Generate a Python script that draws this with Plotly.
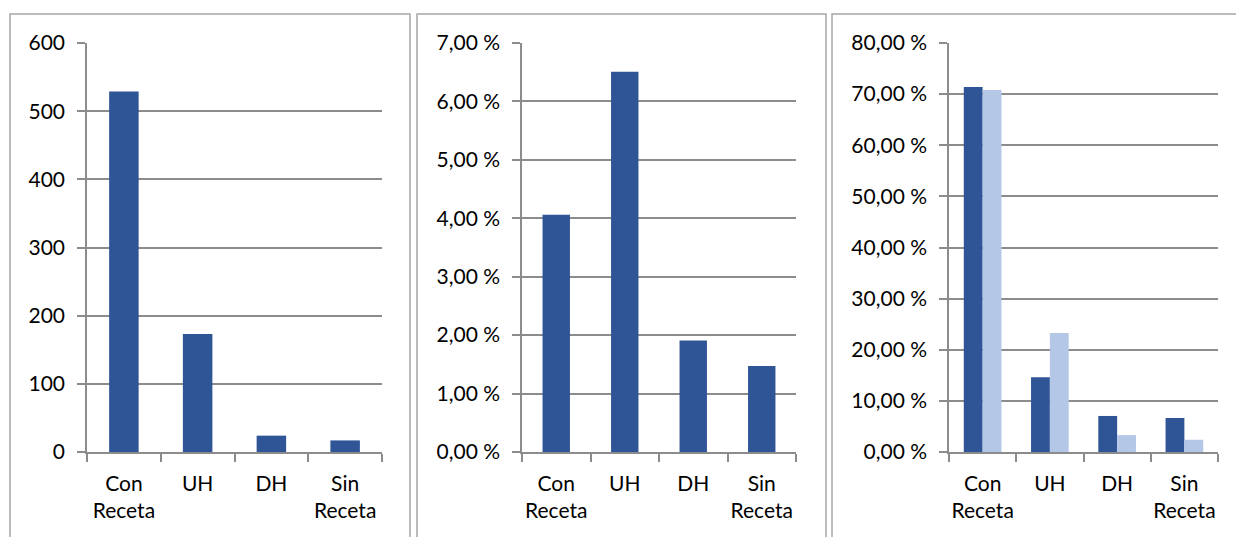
import plotly.graph_objects as go

categories = ["Con<br>Receta", "UH", "DH", "Sin<br>Receta"]

counts = [529, 173, 24, 17]
count_ticks = [0, 100, 200, 300, 400, 500, 600]

pct_single = [4.06, 6.51, 1.91, 1.47]
pct_single_ticks = [0, 1, 2, 3, 4, 5, 6, 7]

pct_dark = [71.4, 14.6, 7.05, 6.65]
pct_light = [70.8, 23.3, 3.3, 2.4]
pct_pair_ticks = [0, 10, 20, 30, 40, 50, 60, 70, 80]

DARK = "#2F5597"
LIGHT = "#B4C7E7"
GRID = "#8C8C8C"
BORDER = "#A6A6A6"
FONT = "Lato"

W, H = 1236, 537


def px(x):
    return x / W


def py(y):
    return (H - y) / H


def fmt_pct(v):
    return f"{v:.2f}".replace(".", ",") + " %"


fig = go.Figure()

fig.add_trace(go.Bar(x=categories, y=counts, marker_color=DARK, xaxis="x", yaxis="y",
                     marker_line_width=0, showlegend=False))
fig.add_trace(go.Bar(x=categories, y=pct_single, marker_color=DARK, xaxis="x2", yaxis="y2",
                     marker_line_width=0, showlegend=False))
fig.add_trace(go.Bar(x=categories, y=pct_dark, marker_color=DARK, xaxis="x3", yaxis="y3",
                     marker_line_width=0, showlegend=False, offsetgroup="a"))
fig.add_trace(go.Bar(x=categories, y=pct_light, marker_color=LIGHT, xaxis="x3", yaxis="y3",
                     marker_line_width=0, showlegend=False, offsetgroup="b"))

ydom = [py(452), py(43)]
xdoms = [[px(87), px(382)], [px(522), px(796)], [px(949), px(1218)]]

xcommon = dict(type="category", showline=True, linecolor=GRID, linewidth=1.5,
               ticks="outside", tickson="boundaries", ticklen=8, tickcolor=GRID,
               tickwidth=1.5, showgrid=False, automargin=False, tickangle=0,
               ticklabelstandoff=12,
               tickfont=dict(family=FONT, size=21, color="#000000"), fixedrange=True)
ycommon = dict(showline=True, linecolor=GRID, linewidth=1.5, ticks="outside", ticklen=8,
               tickcolor=GRID, tickwidth=1.5, showgrid=True, gridcolor=GRID, gridwidth=1.5,
               zeroline=False, automargin=False, ticklabelstandoff=8,
               tickfont=dict(family=FONT, size=21, color="#000000"), fixedrange=True)

layout = dict(
    width=W, height=H, autosize=False, margin=dict(l=0, r=0, t=0, b=0, pad=0),
    paper_bgcolor="white", plot_bgcolor="white",
    barmode="group", bargap=0.6, bargroupgap=0.0,
    font=dict(family=FONT, size=21, color="#000000"),
)
layout["xaxis"] = dict(xcommon, domain=xdoms[0], anchor="y")
layout["yaxis"] = dict(ycommon, domain=ydom, anchor="x", range=[0, 600],
                       tickvals=count_ticks, ticktext=[str(v) for v in count_ticks])
layout["xaxis2"] = dict(xcommon, domain=xdoms[1], anchor="y2")
layout["yaxis2"] = dict(ycommon, domain=ydom, anchor="x2", range=[0, 7],
                        tickvals=pct_single_ticks, ticktext=[fmt_pct(v) for v in pct_single_ticks])
layout["xaxis3"] = dict(xcommon, domain=xdoms[2], anchor="y3")
layout["yaxis3"] = dict(ycommon, domain=ydom, anchor="x3", range=[0, 80],
                        tickvals=pct_pair_ticks, ticktext=[fmt_pct(v) for v in pct_pair_ticks])
fig.update_layout(**layout)

fig.update_traces(selector=dict(xaxis="x3"), width=0.28)
fig.data[2].update(offset=-0.28)
fig.data[3].update(offset=0.0)

for x0, x1 in [(10, 410), (417, 826), (832, 1240)]:
    fig.add_shape(type="rect", xref="paper", yref="paper",
                  x0=px(x0), x1=px(x1), y0=py(560), y1=py(14),
                  line=dict(color=BORDER, width=1.5), fillcolor="rgba(0,0,0,0)", layer="below")

fig.write_html("out.html", config={"displayModeBar": False},
               post_script="document.body.style.margin='0';document.body.style.overflow='hidden';")
